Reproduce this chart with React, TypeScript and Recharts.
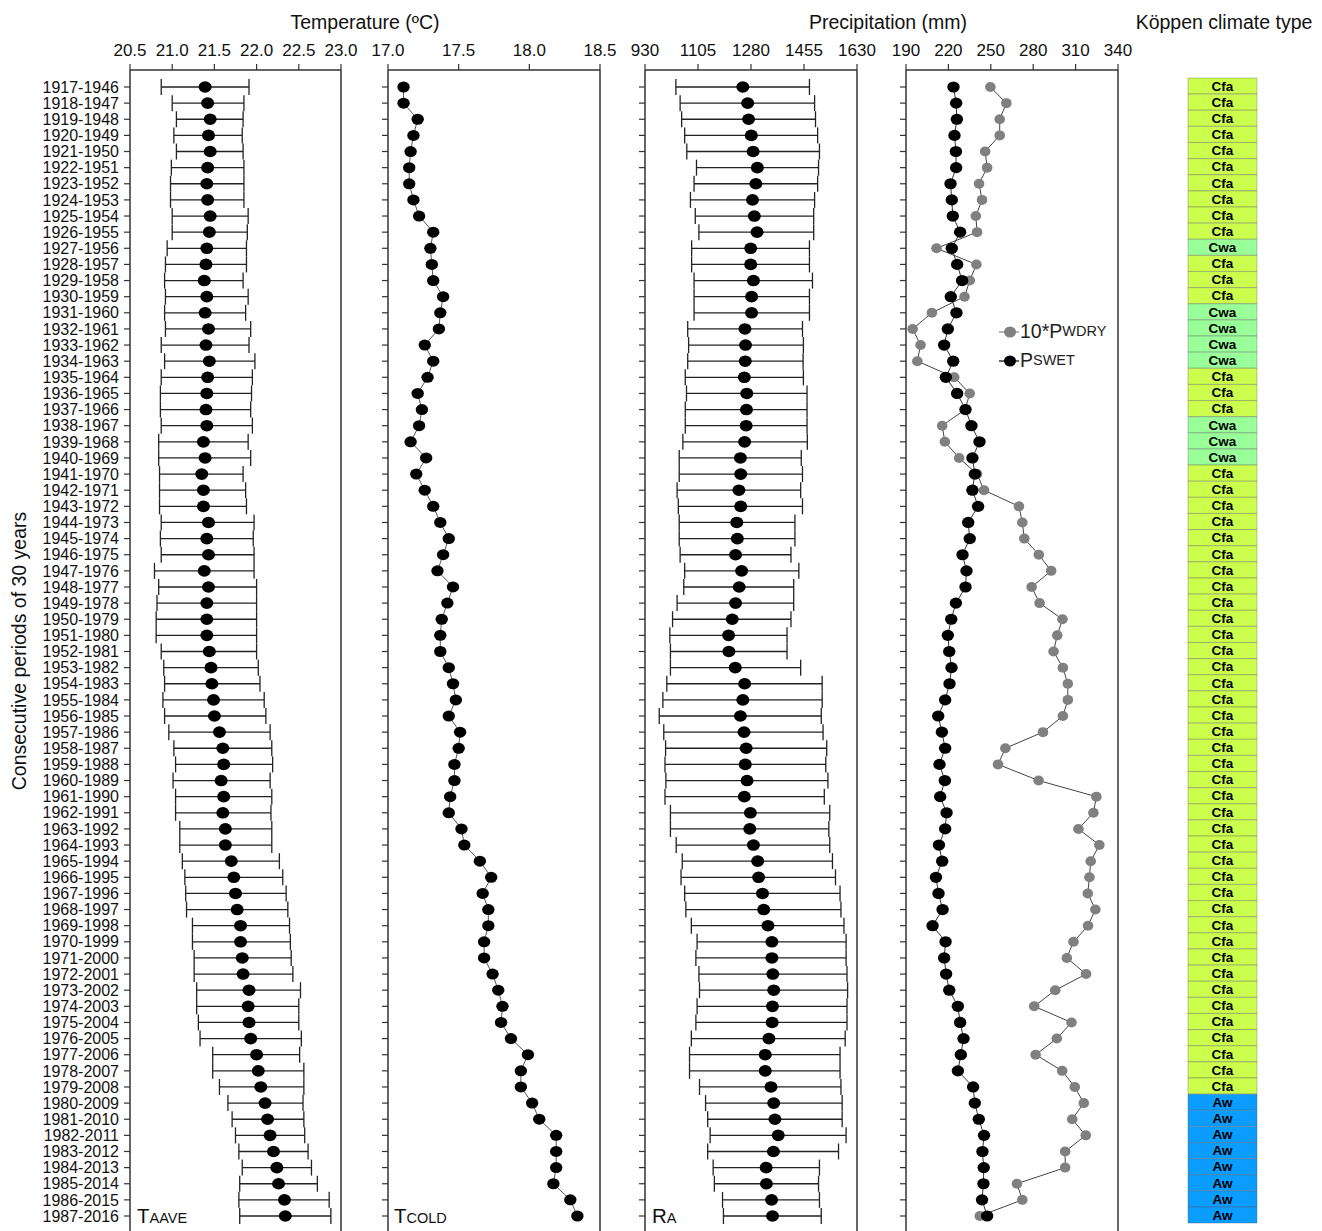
import React from 'react';
import {
  ComposedChart,
  BarChart,
  Bar,
  Cell,
  Line,
  XAxis,
  YAxis,
  ErrorBar,
  Legend,
  LabelList,
} from 'recharts';

// ---------- DATA ----------
const periods = [
  '1917-1946', '1918-1947', '1919-1948', '1920-1949', '1921-1950', '1922-1951', '1923-1952', '1924-1953', '1925-1954', '1926-1955',
  '1927-1956', '1928-1957', '1929-1958', '1930-1959', '1931-1960', '1932-1961', '1933-1962', '1934-1963', '1935-1964', '1936-1965',
  '1937-1966', '1938-1967', '1939-1968', '1940-1969', '1941-1970', '1942-1971', '1943-1972', '1944-1973', '1945-1974', '1946-1975',
  '1947-1976', '1948-1977', '1949-1978', '1950-1979', '1951-1980', '1952-1981', '1953-1982', '1954-1983', '1955-1984', '1956-1985',
  '1957-1986', '1958-1987', '1959-1988', '1960-1989', '1961-1990', '1962-1991', '1963-1992', '1964-1993', '1965-1994', '1966-1995',
  '1967-1996', '1968-1997', '1969-1998', '1970-1999', '1971-2000', '1972-2001', '1973-2002', '1974-2003', '1975-2004', '1976-2005',
  '1977-2006', '1978-2007', '1979-2008', '1980-2009', '1981-2010', '1982-2011', '1983-2012', '1984-2013', '1985-2014', '1986-2015',
  '1987-2016',
];

const taave = [
  21.39, 21.42, 21.45, 21.43, 21.45, 21.42, 21.41, 21.42, 21.45, 21.44,
  21.41, 21.40, 21.38, 21.41, 21.39, 21.43, 21.40, 21.44, 21.42, 21.41,
  21.40, 21.41, 21.37, 21.39, 21.35, 21.37, 21.37, 21.43, 21.41, 21.43,
  21.38, 21.43, 21.41, 21.41, 21.41, 21.44, 21.46, 21.47, 21.49, 21.50,
  21.56, 21.60, 21.61, 21.58, 21.61, 21.60, 21.63, 21.63, 21.70, 21.73,
  21.75, 21.77, 21.81, 21.81, 21.83, 21.84, 21.91, 21.90, 21.91, 21.93,
  22.00, 22.02, 22.05, 22.10, 22.13, 22.16, 22.20, 22.24, 22.26, 22.33, 22.34,
];
const taaveLow = [
  20.87, 21.00, 21.05, 21.02, 21.05, 20.99, 20.98, 20.98, 21.00, 21.00,
  20.94, 20.92, 20.91, 20.92, 20.91, 20.92, 20.87, 20.91, 20.87, 20.86,
  20.86, 20.87, 20.84, 20.84, 20.85, 20.85, 20.85, 20.87, 20.86, 20.87,
  20.79, 20.84, 20.82, 20.81, 20.81, 20.87, 20.90, 20.91, 20.89, 20.91,
  20.96, 21.02, 21.04, 21.01, 21.04, 21.04, 21.09, 21.09, 21.12, 21.15,
  21.16, 21.17, 21.24, 21.24, 21.26, 21.26, 21.29, 21.29, 21.31, 21.33,
  21.48, 21.48, 21.56, 21.66, 21.71, 21.75, 21.79, 21.83, 21.80, 21.79, 21.80,
];
const taaveHigh = [
  21.91, 21.85, 21.84, 21.83, 21.84, 21.85, 21.85, 21.85, 21.90, 21.89,
  21.88, 21.88, 21.84, 21.90, 21.87, 21.93, 21.91, 21.98, 21.95, 21.94,
  21.93, 21.95, 21.90, 21.93, 21.84, 21.87, 21.88, 21.97, 21.96, 21.97,
  21.97, 22.00, 22.00, 22.00, 22.00, 22.00, 22.02, 22.04, 22.09, 22.11,
  22.16, 22.18, 22.19, 22.16, 22.18, 22.17, 22.18, 22.18, 22.27, 22.31,
  22.35, 22.37, 22.39, 22.40, 22.41, 22.43, 22.52, 22.50, 22.50, 22.53,
  22.51, 22.56, 22.56, 22.55, 22.56, 22.57, 22.61, 22.65, 22.72, 22.86, 22.88,
];

const tcold = [
  17.11, 17.11, 17.21, 17.18, 17.16, 17.15, 17.15, 17.18, 17.22, 17.32,
  17.30, 17.31, 17.32, 17.39, 17.37, 17.36, 17.26, 17.32, 17.28, 17.21,
  17.24, 17.22, 17.16, 17.27, 17.20, 17.26, 17.32, 17.37, 17.43, 17.39,
  17.35, 17.46, 17.42, 17.38, 17.37, 17.37, 17.43, 17.46, 17.48, 17.43,
  17.51, 17.50, 17.47, 17.47, 17.44, 17.43, 17.52, 17.54, 17.65, 17.73,
  17.67, 17.71, 17.71, 17.68, 17.68, 17.74, 17.78, 17.81, 17.80, 17.87,
  17.99, 17.94, 17.94, 18.02, 18.07, 18.19, 18.19, 18.19, 18.17, 18.29, 18.34,
];

const ra = [
  1253, 1269, 1272, 1281, 1287, 1301, 1296, 1285, 1291, 1300,
  1279, 1279, 1288, 1282, 1282, 1260, 1262, 1261, 1258, 1266,
  1265, 1264, 1259, 1245, 1246, 1240, 1246, 1233, 1235, 1229,
  1249, 1241, 1229, 1218, 1206, 1207, 1228, 1259, 1253, 1245,
  1257, 1264, 1261, 1267, 1258, 1278, 1276, 1288, 1302, 1305,
  1318, 1322, 1336, 1349, 1349, 1352, 1355, 1351, 1350, 1339,
  1327, 1327, 1346, 1355, 1359, 1370, 1354, 1330, 1331, 1348, 1351,
];
const raLow = [
  1032, 1046, 1051, 1061, 1068, 1100, 1092, 1080, 1096, 1108,
  1084, 1084, 1092, 1092, 1092, 1071, 1074, 1071, 1063, 1067,
  1063, 1063, 1055, 1043, 1043, 1036, 1040, 1043, 1043, 1046,
  1061, 1058, 1036, 1021, 1012, 1014, 1014, 1002, 989, 977,
  992, 998, 996, 999, 996, 1014, 1014, 1033, 1053, 1049,
  1061, 1065, 1083, 1102, 1098, 1108, 1110, 1102, 1098, 1083,
  1077, 1077, 1110, 1130, 1137, 1145, 1137, 1155, 1159, 1186, 1189,
];
const raHigh = [
  1473, 1490, 1493, 1500, 1506, 1503, 1500, 1490, 1487, 1487,
  1473, 1473, 1483, 1473, 1473, 1450, 1453, 1452, 1453, 1465,
  1465, 1465, 1466, 1446, 1450, 1444, 1450, 1425, 1425, 1412,
  1438, 1421, 1421, 1412, 1399, 1399, 1444, 1515, 1515, 1512,
  1518, 1530, 1527, 1534, 1522, 1540, 1537, 1540, 1549, 1559,
  1574, 1577, 1587, 1594, 1594, 1597, 1599, 1597, 1597, 1591,
  1574, 1574, 1577, 1581, 1581, 1594, 1569, 1506, 1503, 1506, 1512,
];

const pswet = [
  223.6, 225.5, 226.0, 224.3, 225.3, 225.5, 221.5, 222.4, 223.1, 228.3,
  222.4, 226.2, 229.7, 221.7, 225.7, 219.6, 217.0, 223.4, 218.2, 226.2,
  232.1, 236.3, 242.0, 237.0, 238.7, 237.0, 241.0, 234.0, 235.1, 230.0,
  232.8, 232.1, 225.3, 222.0, 219.6, 220.6, 222.2, 220.8, 217.7, 212.8,
  215.4, 217.7, 213.7, 217.5, 214.2, 218.7, 217.7, 213.3, 215.6, 211.2,
  213.0, 215.9, 208.8, 218.0, 217.0, 218.4, 220.6, 226.7, 228.3, 230.7,
  228.8, 226.7, 237.5, 238.7, 241.5, 245.2, 244.1, 245.0, 244.8, 243.8, 247.4,
];
const pwdry10 = [
  249.7, 261.0, 256.3, 256.3, 246.0, 247.4, 241.7, 243.8, 239.4, 240.3,
  211.6, 239.8, 235.1, 231.4, 208.3, 194.7, 200.3, 198.0, 224.1, 235.1,
  231.8, 215.6, 217.5, 227.6, 240.3, 245.2, 269.9, 272.3, 273.7, 284.0,
  292.7, 278.9, 284.5, 300.7, 297.0, 294.4, 301.0, 304.5, 304.5, 301.0,
  286.9, 260.3, 255.1, 283.8, 324.7, 322.6, 312.0, 326.8, 320.7, 319.8,
  318.6, 324.0, 318.8, 308.5, 303.8, 317.4, 295.6, 280.7, 307.1, 296.7,
  281.7, 300.5, 309.4, 315.8, 307.6, 317.2, 302.6, 302.6, 268.5, 272.3, 242.2,
];

const koppen = [
  'Cfa', 'Cfa', 'Cfa', 'Cfa', 'Cfa', 'Cfa', 'Cfa', 'Cfa', 'Cfa', 'Cfa',
  'Cwa', 'Cfa', 'Cfa', 'Cfa', 'Cwa', 'Cwa', 'Cwa', 'Cwa', 'Cfa', 'Cfa',
  'Cfa', 'Cwa', 'Cwa', 'Cwa', 'Cfa', 'Cfa', 'Cfa', 'Cfa', 'Cfa', 'Cfa',
  'Cfa', 'Cfa', 'Cfa', 'Cfa', 'Cfa', 'Cfa', 'Cfa', 'Cfa', 'Cfa', 'Cfa',
  'Cfa', 'Cfa', 'Cfa', 'Cfa', 'Cfa', 'Cfa', 'Cfa', 'Cfa', 'Cfa', 'Cfa',
  'Cfa', 'Cfa', 'Cfa', 'Cfa', 'Cfa', 'Cfa', 'Cfa', 'Cfa', 'Cfa', 'Cfa',
  'Cfa', 'Cfa', 'Cfa', 'Aw', 'Aw', 'Aw', 'Aw', 'Aw', 'Aw', 'Aw', 'Aw',
];

const taaveTicks = [20.5, 21.0, 21.5, 22.0, 22.5, 23.0];
const tcoldTicks = [17.0, 17.5, 18.0, 18.5];
const raTicks = [930, 1105, 1280, 1455, 1630];
const precipTicks = [190, 220, 250, 280, 310, 340];

const koppenColors: Record<string, string> = { Cfa: '#ccff4d', Cwa: '#99ff99', Aw: '#0a9cff' };

const legendItems = [
  { key: 'pwdry', main: '10*P', sub: 'WDRY', color: '#808080' },
  { key: 'pswet', main: 'P', sub: 'SWET', color: '#000000' },
];

// ---------- TABLE ----------
const rows = periods.map((period, i) => ({
  period,
  taave: taave[i],
  taaveErr: [+(taave[i] - taaveLow[i]).toFixed(3), +(taaveHigh[i] - taave[i]).toFixed(3)],
  tcold: tcold[i],
  ra: ra[i],
  raErr: [ra[i] - raLow[i], raHigh[i] - ra[i]],
  pswet: pswet[i],
  pwdry: pwdry10[i],
  koppen: koppen[i],
  span: 1,
}));

// ---------- STYLE ----------
const FONT = '"Liberation Sans", Arial, Helvetica, sans-serif';
const CHART_H = 1240;
const MARGIN_TOP = 40; // + x axis height 30 -> plot top 70
const MARGIN_BOTTOM = 8; // plot bottom at 1232 (clipped)
const YPAD = { top: 17, bottom: 16 };
const INK = '#111';
const AXIS = '#333';

const ellipseDot = (fill: string, rx: number, ry: number) => (p: any) => {
  if (p == null || p.cx == null || p.cy == null) return <g key={`e-${p?.index}`} />;
  return <ellipse key={`d-${p.index}`} cx={p.cx} cy={p.cy} rx={rx} ry={ry} fill={fill} stroke="none" />;
};

type PanelProps = {
  left: number;
  width: number;
  marginLeft: number;
  marginRight: number;
  yWidth: number;
  domain: [number, number];
  ticks: number[];
  digits: number;
  showNames?: boolean;
  children?: React.ReactNode;
};

function Panel(p: PanelProps) {
  return (
    <div style={{ position: 'absolute', left: p.left, top: 0 }}>
      <ComposedChart
        layout="vertical"
        width={p.width}
        height={CHART_H}
        data={rows}
        margin={{ top: MARGIN_TOP, right: p.marginRight, bottom: MARGIN_BOTTOM, left: p.marginLeft }}
        style={{ fontFamily: FONT }}
      >
        <XAxis
          type="number"
          orientation="top"
          domain={p.domain}
          ticks={p.ticks}
          allowDataOverflow
          interval={0}
          height={30}
          tickFormatter={(v: number) => Number(v).toFixed(p.digits)}
          tick={{ fontSize: 17, fill: INK, fontFamily: FONT }}
          tickSize={6}
          tickMargin={8}
          axisLine={{ stroke: AXIS, strokeWidth: 1.5 }}
          tickLine={{ stroke: AXIS, strokeWidth: 1.2 }}
        />
        <YAxis
          type="category"
          dataKey="period"
          scale="point"
          padding={YPAD}
          interval={0}
          width={p.yWidth}
          axisLine={{ stroke: AXIS, strokeWidth: 1.5 }}
          tickSize={6}
          tickMargin={5}
          tick={{ fontSize: 16, fill: INK, fontFamily: FONT }}
          tickLine={{ stroke: AXIS, strokeWidth: 1.2 }}
          tickFormatter={p.showNames ? undefined : () => ''}
          label={
            p.showNames
              ? {
                  value: 'Consecutive periods of 30 years',
                  angle: -90,
                  position: 'insideLeft',
                  offset: 19,
                  style: { textAnchor: 'middle', fontSize: 19.5, fill: INK, fontFamily: FONT },
                }
              : undefined
          }
        />
        <YAxis
          yAxisId="frame"
          orientation="right"
          type="category"
          dataKey="period"
          scale="point"
          width={1}
          tick={false}
          tickLine={false}
          axisLine={{ stroke: AXIS, strokeWidth: 1.5 }}
        />
        {p.children}
      </ComposedChart>
    </div>
  );
}

function WetDryLegend(props: any) {
  const payload: any[] = props?.payload ?? [];
  const items = legendItems.filter((it) => payload.length === 0 || payload.some((e) => e && e.dataKey === it.key));
  return (
    <div style={{ fontFamily: FONT, color: '#222' }}>
      {items.map((it) => (
        <div key={it.key} style={{ display: 'flex', alignItems: 'center', height: 29, whiteSpace: 'nowrap' }}>
          <svg width={20} height={20} style={{ marginRight: 1 }}>
            <line x1={0} y1={10} x2={20} y2={10} stroke={it.color} strokeWidth={1.2} />
            <ellipse cx={11} cy={10} rx={6} ry={5.5} fill={it.color} />
          </svg>
          <span style={{ fontSize: 19.5, lineHeight: '29px' }}>{it.main}</span>
          <span style={{ fontSize: 14.5, lineHeight: '29px' }}>{it.sub}</span>
        </div>
      ))}
    </div>
  );
}

function PanelTag({ left, main, sub }: { left: number; main: string; sub: string }) {
  return (
    <div
      style={{
        position: 'absolute',
        left,
        top: 1203,
        fontFamily: FONT,
        color: INK,
        lineHeight: '26px',
        whiteSpace: 'nowrap',
      }}
    >
      <span style={{ fontSize: 20.5 }}>{main}</span>
      <span style={{ fontSize: 14.5 }}>{sub}</span>
    </div>
  );
}

const titleStyle: React.CSSProperties = {
  position: 'absolute',
  top: 10,
  width: 260,
  textAlign: 'center',
  fontFamily: FONT,
  fontSize: 19.5,
  lineHeight: '24px',
  color: INK,
  whiteSpace: 'nowrap',
};

export default function App() {
  return (
    <div
      style={{
        position: 'fixed',
        left: 0,
        top: 0,
        width: 1322,
        height: 1231,
        overflow: 'hidden',
        background: '#ffffff',
        fontFamily: FONT,
      }}
    >
      <div style={{ ...titleStyle, left: 365 - 130 }}>Temperature (ºC)</div>
      <div style={{ ...titleStyle, left: 888 - 130 }}>Precipitation (mm)</div>
      <div style={{ ...titleStyle, left: 1224 - 130 }}>Köppen climate type</div>

      {/* Panel 1: T AAVE */}
      <Panel left={0} width={365} marginLeft={0} marginRight={23} yWidth={130} domain={[20.5, 23]} ticks={taaveTicks} digits={1} showNames>
        <Line
          dataKey="taave"
          stroke="none"
          isAnimationActive={false}
          activeDot={false}
          dot={ellipseDot('#000', 6.5, 5.8)}
        >
          <ErrorBar dataKey="taaveErr" direction="x" width={8} stroke="#222" strokeWidth={1.3} isAnimationActive={false} />
        </Line>
      </Panel>

      {/* Panel 2: T COLD */}
      <Panel left={350} width={270} marginLeft={20} marginRight={19} yWidth={18} domain={[17, 18.5]} ticks={tcoldTicks} digits={1}>
        <Line
          dataKey="tcold"
          stroke="#555"
          strokeWidth={1}
          isAnimationActive={false}
          activeDot={false}
          dot={ellipseDot('#000', 6.2, 5.5)}
        />
      </Panel>

      {/* Panel 3: R A */}
      <Panel left={607} width={270} marginLeft={20} marginRight={19} yWidth={18} domain={[930, 1630]} ticks={raTicks} digits={0}>
        <Line
          dataKey="ra"
          stroke="none"
          isAnimationActive={false}
          activeDot={false}
          dot={ellipseDot('#000', 6.5, 5.8)}
        >
          <ErrorBar dataKey="raErr" direction="x" width={8} stroke="#222" strokeWidth={1.3} isAnimationActive={false} />
        </Line>
      </Panel>

      {/* Panel 4: P SWET and 10*P WDRY */}
      <Panel left={868} width={270} marginLeft={20} marginRight={19} yWidth={18} domain={[190, 340]} ticks={precipTicks} digits={0}>
        <Line
          dataKey="pwdry"
          name="10*PWDRY"
          stroke="#444"
          strokeWidth={1}
          isAnimationActive={false}
          activeDot={false}
          dot={ellipseDot('#808080', 5.3, 5.0)}
        />
        <Line
          dataKey="pswet"
          name="PSWET"
          stroke="#333"
          strokeWidth={1}
          isAnimationActive={false}
          activeDot={false}
          dot={ellipseDot('#000', 6.2, 5.6)}
        />
        <Legend
          layout="vertical"
          align="center"
          verticalAlign="middle"
          content={<WetDryLegend />}
          wrapperStyle={{ left: 131, top: 317, width: 'auto', height: 'auto' }}
        />
      </Panel>

      {/* Köppen climate type column */}
      <div style={{ position: 'absolute', left: 1180, top: 0 }}>
        <BarChart
          layout="vertical"
          width={88}
          height={CHART_H}
          data={rows}
          barCategoryGap={0}
          margin={{ top: 78, right: 11, bottom: CHART_H - 78 - 1145.2, left: 8 }}
          style={{ fontFamily: FONT }}
        >
          <XAxis type="number" hide domain={[0, 1]} />
          <YAxis type="category" dataKey="period" hide />
          <Bar dataKey="span" isAnimationActive={false} stroke="rgba(90,90,90,0.35)" strokeWidth={1}>
            {rows.map((r, i) => (
              <Cell key={`k-${i}`} fill={koppenColors[r.koppen]} />
            ))}
            <LabelList
              dataKey="koppen"
              position="center"
              fill="#000"
              fontSize={13.5}
              fontWeight={700}
              fontFamily={FONT}
            />
          </Bar>
        </BarChart>
      </div>

      <PanelTag left={137} main="T" sub="AAVE" />
      <PanelTag left={394} main="T" sub="COLD" />
      <PanelTag left={652} main="R" sub="A" />
    </div>
  );
}
